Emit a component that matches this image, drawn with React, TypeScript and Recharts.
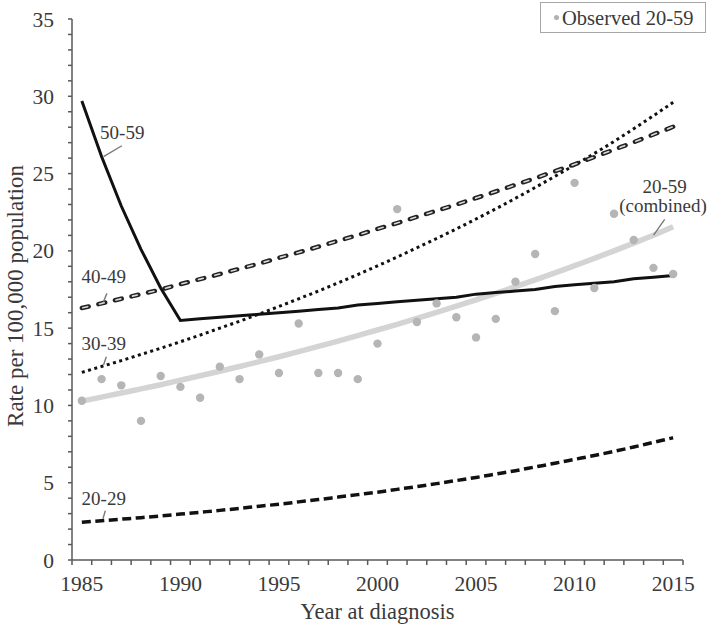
import React from 'react';
import {
  ComposedChart,
  Line,
  XAxis,
  YAxis,
  ReferenceDot,
  ReferenceLine,
  Legend,
  Label,
} from 'recharts';

const years = [
  1985, 1986, 1987, 1988, 1989, 1990, 1991, 1992, 1993, 1994, 1995, 1996, 1997, 1998, 1999, 2000,
  2001, 2002, 2003, 2004, 2005, 2006, 2007, 2008, 2009, 2010, 2011, 2012, 2013, 2014, 2015,
];

const observed = [
  10.3, 11.7, 11.3, 9.0, 11.9, 11.2, 10.5, 12.5, 11.7, 13.3, 12.1, 15.3, 12.1, 12.1, 11.7, 14.0,
  22.7, 15.4, 16.6, 15.7, 14.4, 15.6, 18.0, 19.8, 16.1, 24.4, 17.6, 22.4, 20.7, 18.9, 18.5,
];

const age50to59 = [
  29.7, 26.1, 22.9, 20.1, 17.6, 15.5, 15.6, 15.7, 15.8, 15.9, 16.0, 16.1, 16.2, 16.3, 16.5, 16.6,
  16.7, 16.8, 16.9, 17.0, 17.2, 17.3, 17.4, 17.5, 17.7, 17.8, 17.9, 18.0, 18.2, 18.3, 18.4,
];

const age40to49 = [
  16.3, 16.6, 16.9, 17.2, 17.5, 17.85, 18.17, 18.5, 18.84, 19.18, 19.55, 19.9, 20.27, 20.65, 21.02, 21.42,
  21.8, 22.2, 22.6, 23.0, 23.42, 23.84, 24.27, 24.7, 25.15, 25.6, 26.07, 26.55, 27.03, 27.53, 28.03,
];

const age30to39 = [
  12.14, 12.52, 12.9, 13.3, 13.7, 14.12, 14.55, 15.0, 15.45, 15.92, 16.4, 16.9, 17.4, 17.93, 18.47, 19.03,
  19.6, 20.2, 20.8, 21.42, 22.06, 22.72, 23.4, 24.1, 24.82, 25.55, 26.3, 27.08, 27.9, 28.74, 29.61,
];

const age20to29 = [
  2.44, 2.54, 2.64, 2.74, 2.85, 2.97, 3.09, 3.21, 3.34, 3.48, 3.61, 3.76, 3.91, 4.07, 4.23, 4.39,
  4.57, 4.75, 4.94, 5.14, 5.34, 5.56, 5.78, 6.02, 6.26, 6.51, 6.76, 7.03, 7.31, 7.61, 7.91,
];

const combined20to59 = [
  10.28, 10.54, 10.8, 11.07, 11.34, 11.63, 11.92, 12.21, 12.52, 12.83, 13.15, 13.48, 13.82, 14.16, 14.52, 14.88,
  15.25, 15.63, 16.02, 16.42, 16.83, 17.25, 17.68, 18.12, 18.57, 19.04, 19.51, 20.0, 20.5, 21.01, 21.56,
];

const xLabelYears = [1985, 1990, 1995, 2000, 2005, 2010, 2015];
const yTickValues = Array.from({ length: 36 }, (_, i) => i);
const yLabelStep = 5;

const seriesLabels = [
  { text: '50-59', x: 1987.05, y: 27.68 },
  { text: '40-49', x: 1986.11, y: 18.33 },
  { text: '30-39', x: 1986.11, y: 14.02 },
  { text: '20-29', x: 1986.11, y: 3.97 },
  { text: '20-59', x: 2014.57, y: 24.19 },
  { text: '(combined)', x: 2014.49, y: 22.92 },
];

const leaderLines = [
  [{ x: 1987.03, y: 26.8 }, { x: 1986.1, y: 26.09 }],
  [{ x: 1986.27, y: 17.25 }, { x: 1986.1, y: 16.71 }],
  [{ x: 1986.24, y: 13.15 }, { x: 1986.1, y: 12.61 }],
  [{ x: 1986.19, y: 3.19 }, { x: 1986.07, y: 2.67 }],
  [{ x: 2014.57, y: 22.04 }, { x: 2014.01, y: 21.02 }],
];

const data = years.map((year, i) => ({
  year,
  observed: observed[i],
  a50: age50to59[i],
  a40: age40to49[i],
  a30: age30to39[i],
  a20: age20to29[i],
  combined: combined20to59[i],
}));

const xTicks: number[] = [];
for (let k = 0; k <= years.length; k++) xTicks.push(years[0] - 0.5 + k);
xLabelYears.forEach((y) => xTicks.push(y));
xTicks.sort((a, b) => a - b);

const FONT = '"Liberation Serif", "Times New Roman", serif';
const AXIS = '#595959';
const TEXT = '#3a3a3a';
const BLACK = '#111111';

const XTick = (props: any) => {
  const { x, y, payload } = props;
  const v = payload.value as number;
  if (Math.abs(v - Math.round(v)) > 0.1) {
    return <line x1={x} x2={x} y1={y} y2={y + 5} stroke={AXIS} strokeWidth={1.5} />;
  }
  return (
    <text x={x} y={y + 30.5} textAnchor="middle" fontSize={21.5} fill={TEXT} fontFamily={FONT}>
      {v}
    </text>
  );
};

const YTitle = () => (
  <text
    x={15}
    y={296}
    transform="rotate(-90 15 296)"
    textAnchor="middle"
    dominantBaseline="central"
    fontSize={23}
    fill={TEXT}
    fontFamily={FONT}
  >
    Rate per 100,000 population
  </text>
);

const LegendBox = () => (
  <div
    style={{
      boxSizing: 'border-box',
      width: 166,
      height: 31,
      border: '1.5px solid #a6a6a6',
      background: '#fff',
      display: 'flex',
      alignItems: 'center',
      fontFamily: FONT,
      fontSize: 20.5,
      color: TEXT,
      paddingLeft: 13,
    }}
  >
    <span
      style={{
        display: 'inline-block',
        width: 5,
        height: 5,
        borderRadius: '50%',
        background: '#b0b0b0',
        marginRight: 3,
      }}
    />
    <span style={{ lineHeight: '20px' }}>Observed 20-59</span>
  </div>
);

export default function App() {
  return (
    <div style={{ position: 'absolute', left: 0, top: 0, width: 709, height: 626, background: '#fff' }}>
      <ComposedChart
        width={709}
        height={626}
        data={data}
        margin={{ top: 19, right: 26, bottom: 0, left: 0 }}
      >
        <XAxis
          dataKey="year"
          type="number"
          domain={[years[0] - 0.5, years[years.length - 1] + 0.5]}
          ticks={xTicks}
          interval={0}
          tickSize={0}
          tickMargin={0}
          tickLine={false}
          tick={<XTick />}
          height={66}
          axisLine={{ stroke: AXIS, strokeWidth: 1.5 }}
          allowDataOverflow
        >
          <Label
            value="Year at diagnosis"
            position="insideBottom"
            offset={7}
            style={{ fontSize: 22.5, fill: TEXT, fontFamily: FONT }}
          />
        </XAxis>
        <YAxis
          type="number"
          domain={[0, 35]}
          ticks={yTickValues}
          interval={0}
          tickFormatter={(v: number) => (v % yLabelStep === 0 ? String(v) : '')}
          tickSize={4}
          tickMargin={14}
          width={72}
          axisLine={{ stroke: AXIS, strokeWidth: 1.5 }}
          tickLine={{ stroke: AXIS, strokeWidth: 1.5 }}
          tick={{ fontSize: 21.5, fill: TEXT, fontFamily: FONT }}
          allowDataOverflow
        >
          <Label content={() => <YTitle />} />
        </YAxis>

        <Legend
          layout="vertical"
          align="center"
          verticalAlign="middle"
          wrapperStyle={{ left: 540, top: 2, width: 166, height: 31 }}
          content={() => <LegendBox />}
        />

        <Line
          type="monotone"
          dataKey="combined"
          stroke="#d4d4d4"
          strokeWidth={5.5}
          dot={false}
          activeDot={false}
          isAnimationActive={false}
          legendType="none"
        />
        <Line
          dataKey="observed"
          stroke="none"
          strokeWidth={0}
          dot={{ r: 4.2, fill: '#b5b5b5', stroke: 'none' }}
          activeDot={false}
          isAnimationActive={false}
          name="Observed 20-59"
        />
        <Line
          type="monotone"
          dataKey="a20"
          stroke={BLACK}
          strokeWidth={3.5}
          strokeDasharray="9 4.5"
          dot={false}
          activeDot={false}
          isAnimationActive={false}
          legendType="none"
        />
        <Line
          type="monotone"
          dataKey="a30"
          stroke={BLACK}
          strokeWidth={3}
          strokeDasharray="3 3.5"
          dot={false}
          activeDot={false}
          isAnimationActive={false}
          legendType="none"
        />
        <Line
          type="monotone"
          dataKey="a40"
          stroke="#222"
          strokeWidth={4.5}
          strokeDasharray="7 10"
          strokeLinecap="round"
          dot={false}
          activeDot={false}
          isAnimationActive={false}
          legendType="none"
        />
        <Line
          type="monotone"
          dataKey="a40"
          stroke="#d8d8d8"
          strokeWidth={1.6}
          strokeDasharray="5 12"
          strokeDashoffset={-1}
          strokeLinecap="round"
          dot={false}
          activeDot={false}
          isAnimationActive={false}
          legendType="none"
        />
        <Line
          dataKey="a50"
          stroke={BLACK}
          strokeWidth={3}
          dot={false}
          activeDot={false}
          isAnimationActive={false}
          legendType="none"
        />

        {leaderLines.map((seg, i) => (
          <ReferenceLine
            key={`ll${i}`}
            segment={seg}
            stroke="#7a7a7a"
            strokeWidth={1.4}
            ifOverflow="visible"
          />
        ))}
        {seriesLabels.map((a, i) => (
          <ReferenceDot
            key={`lab${i}`}
            x={a.x}
            y={a.y}
            r={0}
            ifOverflow="visible"
            shape={(p: any) => (
              <text
                x={p.cx}
                y={p.cy}
                textAnchor="middle"
                dominantBaseline="central"
                fontSize={19}
                fill={TEXT}
                fontFamily={FONT}
              >
                {a.text}
              </text>
            )}
          />
        ))}
      </ComposedChart>
    </div>
  );
}
